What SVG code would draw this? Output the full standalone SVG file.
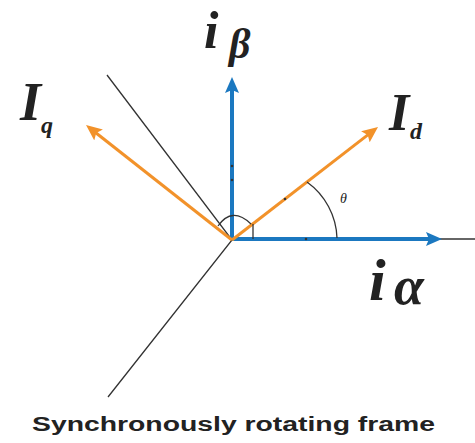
<svg xmlns="http://www.w3.org/2000/svg" width="475" height="443" viewBox="0 0 475 443">
  <style>
    .blue { stroke: #1b78c0; stroke-width: 4; fill: none; }
    .orange { stroke: #f2922a; stroke-width: 3; fill: none; }
    .thin { stroke: #333; stroke-width: 1.3; fill: none; }
    .sym { font-family: "Liberation Serif", serif; font-style: italic; font-weight: bold; fill: #222; }
    .sub { font-family: "Liberation Serif", serif; font-style: italic; font-weight: bold; fill: #222; }
    .theta { font-family: "Liberation Serif", serif; font-style: italic; fill: #222; }
    .caption { font-family: "Liberation Sans", Arial, sans-serif; font-weight: bold; font-size: 20px; fill: #222; }
  </style>
  <defs>
    <marker id="ahBlue" viewBox="0 0 16 14" refX="8" refY="7" markerWidth="16" markerHeight="14" markerUnits="userSpaceOnUse" orient="auto">
      <path d="M0,0 L16,7 L0,14 L3,7 z" fill="#1b78c0"/>
    </marker>
    <marker id="ahOrange" viewBox="0 0 16 14" refX="8" refY="7" markerWidth="16" markerHeight="14" markerUnits="userSpaceOnUse" orient="auto">
      <path d="M0,0 L16,7 L0,14 L3,7 z" fill="#f2922a"/>
    </marker>
  </defs>

  <g id="connectors">
    <path class="thin" d="M107,75 L232,240 L108,397"/>
    <line class="thin" x1="436" y1="239" x2="475" y2="239"/>
    <line id="axis-alpha" class="blue" x1="232" y1="239" x2="434" y2="239" marker-end="url(#ahBlue)"/>
    <line id="axis-beta" class="blue" x1="232" y1="240" x2="232" y2="85" marker-end="url(#ahBlue)"/>
    <line id="vec-Id" class="orange" x1="232" y1="240" x2="371.7" y2="131.9" marker-end="url(#ahOrange)"/>
    <line id="vec-Iq" class="orange" x1="232" y1="240" x2="92.3" y2="130" marker-end="url(#ahOrange)"/>
    <path class="thin" d="M307,182 A 72 72 0 0 1 337,238"/>
    <path class="thin" d="M218,226 Q232,206 251,224"/>
    <path class="thin" d="M253,224 L253,239"/>
    <g fill="#333">
      <circle cx="232" cy="166" r="1.3"/>
      <circle cx="232" cy="180" r="1.3"/>
      <circle cx="306" cy="239" r="1.3"/>
      <circle cx="285" cy="199" r="1.3"/>
    </g>
  </g>

  <g id="label-ibeta">
    <text class="sym" x="204" y="48" font-size="52">i</text>
    <text class="sub" x="229" y="58" font-size="42">β</text>
  </g>
  <g id="label-Iq">
    <text class="sym" x="20" y="120" font-size="54">I</text>
    <text class="sub" x="41" y="133" font-size="24">q</text>
  </g>
  <g id="label-Id">
    <text class="sym" x="389" y="130" font-size="52">I</text>
    <text class="sub" x="410" y="139" font-size="24">d</text>
  </g>
  <g id="label-ialpha">
    <text class="sym" x="369" y="300" font-size="60">i</text>
    <text class="sub" x="394" y="304" font-size="54">α</text>
  </g>
  <g id="label-theta">
    <text class="theta" x="340" y="203" font-size="14">θ</text>
  </g>
  <g id="caption">
    <text class="caption" x="32" y="431" textLength="403" lengthAdjust="spacingAndGlyphs">Synchronously rotating frame</text>
  </g>
</svg>
